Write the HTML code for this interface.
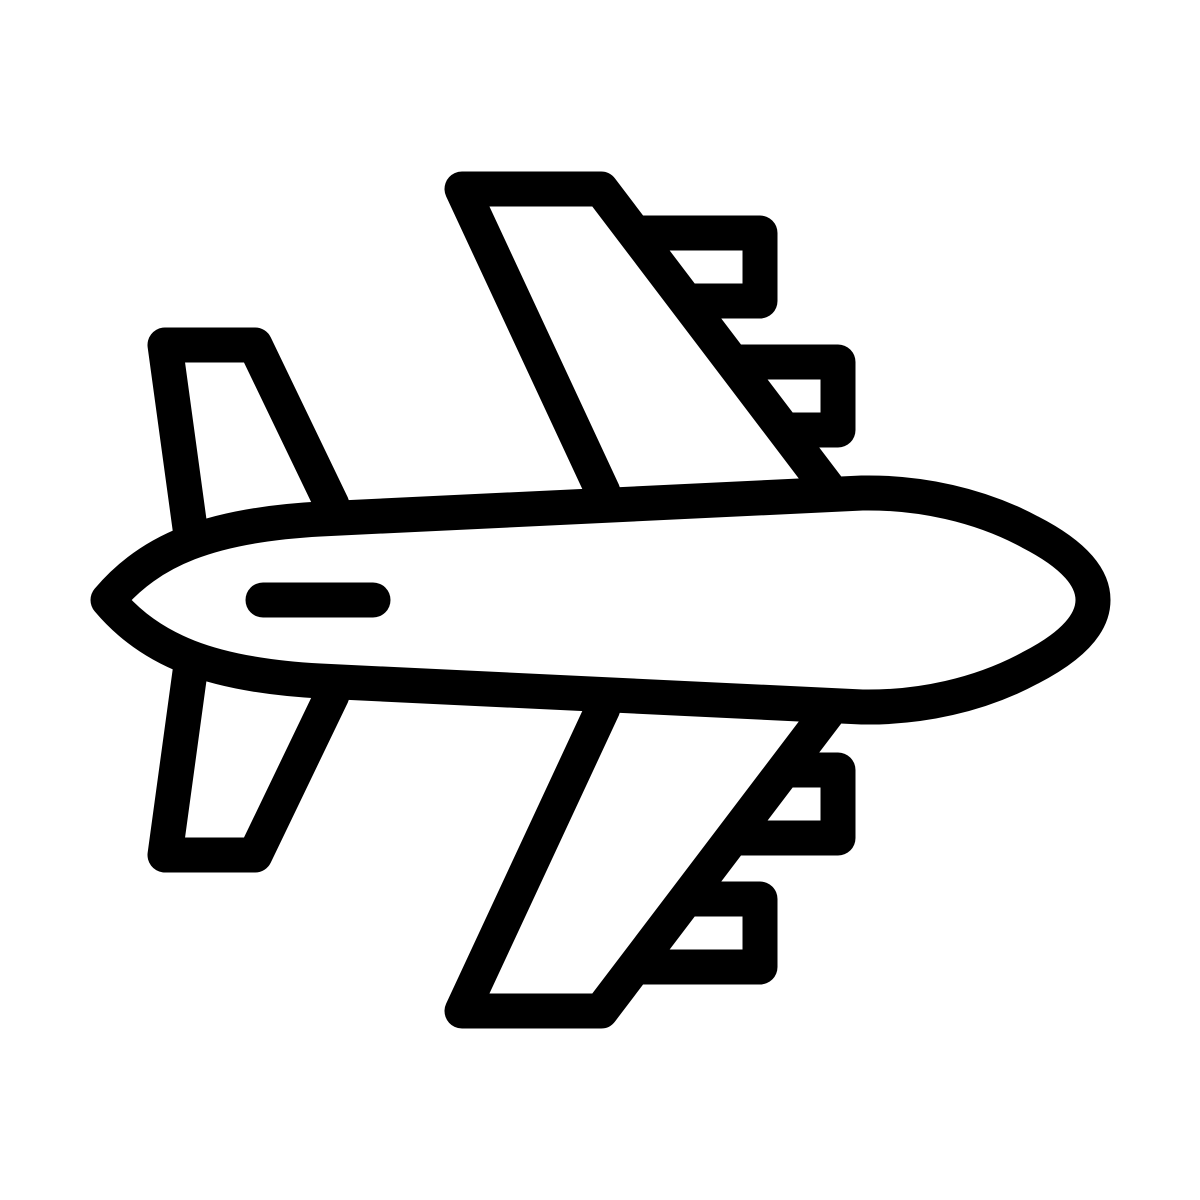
<!DOCTYPE html>
<html><head><meta charset="utf-8"><style>html,body{margin:0;padding:0;background:#fff}svg{display:block}</style></head>
<body>
<svg width="1200" height="1200" viewBox="0 0 1200 1200" xmlns="http://www.w3.org/2000/svg">
<g fill="#fff" stroke="#000" stroke-width="35" stroke-linejoin="round" stroke-linecap="round">
  <g id="half">
    <path d="M634 233 L760 233 L760 301 L686 301"/>
    <path d="M732 362 L838 362 L838 430 L784 430"/>
    <path d="M603 492 L462 189 L601 189 L828 488"/>
    <path d="M190 528 L165 345 L255 345 L332 505"/>
  </g>
  <use href="#half" transform="translate(0,1200) scale(1,-1)"/>
  <path d="M108 600 C150 550 210 525 320 519 L862 493 C920 492 980 505 1030 532 C1075 555 1093 578 1093 600 C1093 622 1075 645 1030 668 C980 695 920 708 862 707 L320 681 C210 675 150 650 108 600 Z"/>
  <line x1="263" y1="600" x2="373" y2="600"/>
</g>
</svg>
</body></html>
